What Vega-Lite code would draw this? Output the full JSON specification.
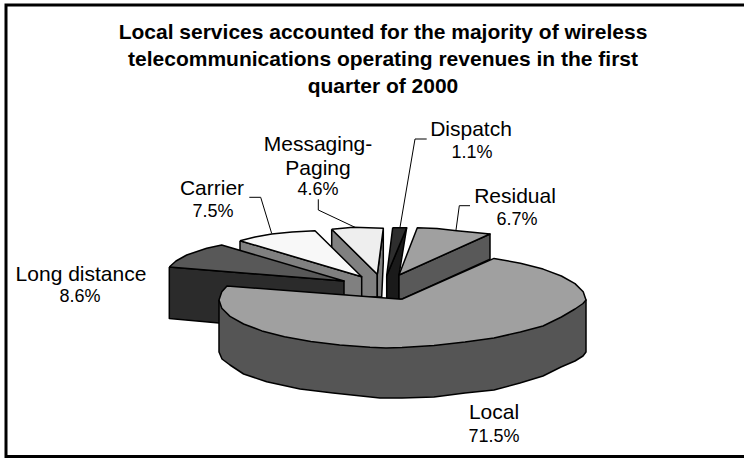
{
  "$schema": "https://vega.github.io/schema/vega-lite/v6.json",
  "width": 740,
  "height": 451.5,
  "autosize": "none",
  "padding": {"left": 6, "top": 5, "right": 0, "bottom": 2},
  "background": "white",
  "view": {"fill": "white", "stroke": "black", "strokeWidth": 3},
  "title": {
    "text": ["Local services accounted for the majority of wireless", "telecommunications operating revenues in the first", "quarter of 2000"],
    "font": "Liberation Sans", "fontSize": 21, "fontWeight": "bold", "color": "black",
    "lineHeight": 27, "anchor": "middle", "frame": "group", "baseline": "alphabetic",
    "offset": 0, "dx": 7, "dy": 109
  },
  "datasets": {
    "faces": [
      {"face":"Messaging left","i":0,"x":331.7,"y":229.3},{"face":"Messaging left","i":1,"x":377.3,"y":274.3},{"face":"Messaging left","i":2,"x":377.3,"y":297},{"face":"Messaging left","i":3,"x":361.7,"y":297},{"face":"Messaging left","i":4,"x":331.7,"y":262},{"face":"Messaging left","i":5,"x":331.7,"y":229.3},
      {"face":"Messaging right","i":0,"x":383.3,"y":228.3},{"face":"Messaging right","i":1,"x":377.3,"y":274.3},{"face":"Messaging right","i":2,"x":377.3,"y":297},{"face":"Messaging right","i":3,"x":381.7,"y":297},{"face":"Messaging right","i":4,"x":383.3,"y":262},{"face":"Messaging right","i":5,"x":383.3,"y":228.3},
      {"face":"Messaging top","i":0,"x":331.7,"y":229.3},{"face":"Messaging top","i":1,"x":353.3,"y":227.3},{"face":"Messaging top","i":2,"x":383.3,"y":228.3},{"face":"Messaging top","i":3,"x":377.3,"y":274.3},{"face":"Messaging top","i":4,"x":331.7,"y":229.3},

      {"face":"Carrier side","i":0,"x":240,"y":240.7},{"face":"Carrier side","i":1,"x":361.7,"y":276.7},{"face":"Carrier side","i":2,"x":361.7,"y":297},{"face":"Carrier side","i":3,"x":240,"y":285},{"face":"Carrier side","i":4,"x":240,"y":240.7},
      {"face":"Carrier top","i":0,"x":240,"y":240.7},{"face":"Carrier top","i":1,"x":255,"y":237},{"face":"Carrier top","i":2,"x":271.7,"y":234},{"face":"Carrier top","i":3,"x":292,"y":232},{"face":"Carrier top","i":4,"x":315,"y":230.7},{"face":"Carrier top","i":5,"x":361.7,"y":276.7},{"face":"Carrier top","i":6,"x":240,"y":240.7},

      {"face":"Long distance side","i":0,"x":169.3,"y":267},{"face":"Long distance side","i":1,"x":344,"y":281},{"face":"Long distance side","i":2,"x":344,"y":323},{"face":"Long distance side","i":3,"x":219,"y":323},{"face":"Long distance side","i":4,"x":169.3,"y":318.5},{"face":"Long distance side","i":5,"x":169.3,"y":267},
      {"face":"Long distance top","i":0,"x":169.3,"y":267},{"face":"Long distance top","i":1,"x":176,"y":261},{"face":"Long distance top","i":2,"x":186.7,"y":255},{"face":"Long distance top","i":3,"x":206.7,"y":248.3},{"face":"Long distance top","i":4,"x":221.7,"y":245},{"face":"Long distance top","i":5,"x":344,"y":281},{"face":"Long distance top","i":6,"x":169.3,"y":267},

      {"face":"Dispatch side","i":0,"x":406.7,"y":227.7},{"face":"Dispatch side","i":1,"x":399,"y":275},{"face":"Dispatch side","i":2,"x":399,"y":299},{"face":"Dispatch side","i":3,"x":386.7,"y":299},{"face":"Dispatch side","i":4,"x":386.7,"y":275.7},{"face":"Dispatch side","i":5,"x":406.7,"y":227.7},
      {"face":"Dispatch top","i":0,"x":392.7,"y":227.7},{"face":"Dispatch top","i":1,"x":406.7,"y":227.7},{"face":"Dispatch top","i":2,"x":386.7,"y":275.7},{"face":"Dispatch top","i":3,"x":392.7,"y":227.7},

      {"face":"Residual side","i":0,"x":399,"y":275},{"face":"Residual side","i":1,"x":490,"y":234},{"face":"Residual side","i":2,"x":490,"y":259.3},{"face":"Residual side","i":3,"x":401.7,"y":299.3},{"face":"Residual side","i":4,"x":399,"y":299},{"face":"Residual side","i":5,"x":399,"y":275},
      {"face":"Residual top","i":0,"x":399,"y":275},{"face":"Residual top","i":1,"x":417.3,"y":227.7},{"face":"Residual top","i":2,"x":437,"y":228.5},{"face":"Residual top","i":3,"x":456.7,"y":230.7},{"face":"Residual top","i":4,"x":475,"y":232.5},{"face":"Residual top","i":5,"x":490,"y":234},{"face":"Residual top","i":6,"x":399,"y":275},

      {"face":"Local side","i":0,"x":219,"y":300},{"face":"Local side","i":1,"x":586,"y":300},{"face":"Local side","i":2,"x":586,"y":352},{"face":"Local side","i":3,"x":583,"y":356},{"face":"Local side","i":4,"x":575,"y":361},{"face":"Local side","i":5,"x":561,"y":367},{"face":"Local side","i":6,"x":543,"y":376},{"face":"Local side","i":7,"x":520,"y":383},{"face":"Local side","i":8,"x":494,"y":390},{"face":"Local side","i":9,"x":465,"y":393},{"face":"Local side","i":10,"x":434,"y":397},{"face":"Local side","i":11,"x":402,"y":398},{"face":"Local side","i":12,"x":380,"y":398},{"face":"Local side","i":13,"x":333,"y":393},{"face":"Local side","i":14,"x":300,"y":389},{"face":"Local side","i":15,"x":266.7,"y":381.7},{"face":"Local side","i":16,"x":243.6,"y":374},{"face":"Local side","i":17,"x":230,"y":365},{"face":"Local side","i":18,"x":222,"y":359},{"face":"Local side","i":19,"x":219,"y":352},{"face":"Local side","i":20,"x":219,"y":300},

      {"face":"Local top","i":0,"x":401.7,"y":299.3},{"face":"Local top","i":1,"x":494,"y":258.4},{"face":"Local top","i":2,"x":520.4,"y":263.2},{"face":"Local top","i":3,"x":543.1,"y":269.1},{"face":"Local top","i":4,"x":561.4,"y":276},{"face":"Local top","i":5,"x":575,"y":283.6},{"face":"Local top","i":6,"x":583.2,"y":291.7},{"face":"Local top","i":7,"x":586,"y":300},{"face":"Local top","i":8,"x":583,"y":303.5},{"face":"Local top","i":9,"x":575,"y":309},{"face":"Local top","i":10,"x":561.4,"y":317},{"face":"Local top","i":11,"x":543,"y":326},{"face":"Local top","i":12,"x":520.4,"y":332},{"face":"Local top","i":13,"x":494,"y":338},{"face":"Local top","i":14,"x":465,"y":342},{"face":"Local top","i":15,"x":434,"y":345.5},{"face":"Local top","i":16,"x":402,"y":347.5},{"face":"Local top","i":17,"x":386,"y":348},{"face":"Local top","i":18,"x":370,"y":347.3},{"face":"Local top","i":19,"x":339.7,"y":345.1},{"face":"Local top","i":20,"x":310.8,"y":341.6},{"face":"Local top","i":21,"x":284.5,"y":336.8},{"face":"Local top","i":22,"x":261.9,"y":330.9},{"face":"Local top","i":23,"x":243.6,"y":324},{"face":"Local top","i":24,"x":230,"y":316.4},{"face":"Local top","i":25,"x":221.8,"y":308.3},{"face":"Local top","i":26,"x":219,"y":300},{"face":"Local top","i":27,"x":221.8,"y":291.7},{"face":"Local top","i":28,"x":227,"y":286},{"face":"Local top","i":29,"x":401.7,"y":299.3}
    ],
    "leaders": [
      {"slice":"Carrier","i":0,"x":249.3,"y":197.3},{"slice":"Carrier","i":1,"x":260.7,"y":197.3},{"slice":"Carrier","i":2,"x":271.7,"y":233.5},
      {"slice":"Messaging-Paging","i":0,"x":318.3,"y":199.3},{"slice":"Messaging-Paging","i":1,"x":318.3,"y":210},{"slice":"Messaging-Paging","i":2,"x":355,"y":227.3},
      {"slice":"Dispatch","i":0,"x":426.7,"y":139},{"slice":"Dispatch","i":1,"x":415,"y":139},{"slice":"Dispatch","i":2,"x":400,"y":227.3},
      {"slice":"Residual","i":0,"x":470,"y":205.7},{"slice":"Residual","i":1,"x":459.3,"y":205.7},{"slice":"Residual","i":2,"x":456,"y":230}
    ],
    "names": [
      {"text":"Dispatch","x":471,"y":136},
      {"text":"Messaging-","x":318,"y":151},
      {"text":"Paging","x":318,"y":175},
      {"text":"Residual","x":515,"y":203.3},
      {"text":"Carrier","x":212,"y":195},
      {"text":"Long distance","x":81,"y":281},
      {"text":"Local","x":494,"y":419}
    ],
    "shares": [
      {"slice":"Dispatch","share":0.011,"x":472,"y":158},
      {"slice":"Messaging-Paging","share":0.046,"x":318,"y":195},
      {"slice":"Residual","share":0.067,"x":517,"y":225},
      {"slice":"Carrier","share":0.075,"x":213,"y":216.7},
      {"slice":"Long distance","share":0.086,"x":80,"y":302.3},
      {"slice":"Local","share":0.715,"x":494,"y":442}
    ]
  },
  "encoding": {
    "x": {"field": "x", "type": "quantitative", "axis": null, "scale": {"domain": [6, 746], "nice": false, "zero": false}},
    "y": {"field": "y", "type": "quantitative", "axis": null, "scale": {"domain": [456.5, 5], "nice": false, "zero": false}}
  },
  "layer": [
    {
      "data": {"name": "faces"},
      "mark": {"type": "line", "stroke": "black", "strokeWidth": 1.5, "strokeJoin": "round"},
      "encoding": {
        "fill": {
          "field": "face", "type": "nominal", "legend": null, "sort": null,
          "scale": {
            "domain": ["Messaging left","Messaging right","Messaging top","Carrier side","Carrier top","Long distance side","Long distance top","Dispatch side","Dispatch top","Residual side","Residual top","Local side","Local top"],
            "range": ["#808080","#808080","#eeeeee","#808080","#f8f8f8","#2b2b2b","#585858","#1a1a1a","#2e2e2e","#595959","#a0a0a0","#555555","#a0a0a0"]
          }
        },
        "order": {"field": "i", "type": "quantitative"}
      }
    },
    {
      "data": {"name": "leaders"},
      "mark": {"type": "line", "stroke": "black", "strokeWidth": 1},
      "encoding": {
        "detail": {"field": "slice", "type": "nominal"},
        "order": {"field": "i", "type": "quantitative"}
      }
    },
    {
      "data": {"name": "names"},
      "mark": {"type": "text", "font": "Liberation Sans", "fontSize": 21, "align": "center", "baseline": "alphabetic", "color": "black"},
      "encoding": {"text": {"field": "text", "type": "nominal"}}
    },
    {
      "data": {"name": "shares"},
      "mark": {"type": "text", "font": "Liberation Sans", "fontSize": 18, "align": "center", "baseline": "alphabetic", "color": "black"},
      "encoding": {"text": {"field": "share", "type": "quantitative", "format": ".1%"}}
    }
  ]
}
